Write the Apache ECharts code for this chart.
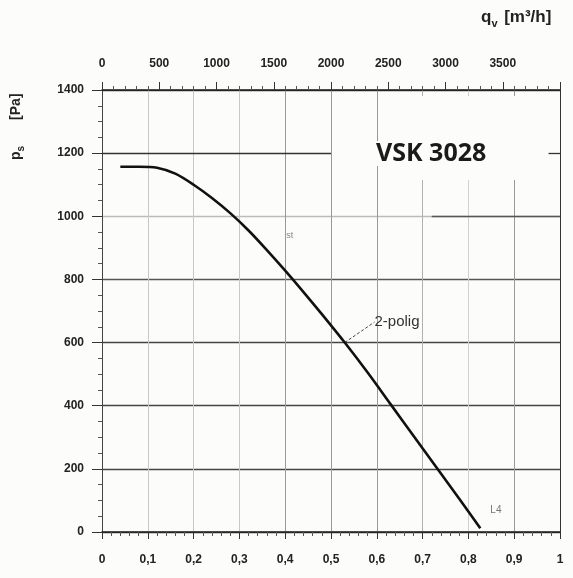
<!DOCTYPE html>
<html><head><meta charset="utf-8">
<script src="https://cdn.jsdelivr.net/npm/echarts@6/dist/echarts.min.js"></script>
<style>html,body{margin:0;padding:0;background:#fcfcfa}#c{width:573px;height:578px}</style>
</head><body><div id="c"></div>
<script>
// Flow rate (m³/s) and static pressure (Pa)
const flowM3s = [0.04, 0.08, 0.12, 0.16, 0.20, 0.24, 0.28, 0.32, 0.36, 0.40, 0.44, 0.48, 0.53, 0.58, 0.63, 0.68, 0.73, 0.78, 0.826];
const pressurePa = [1157, 1157, 1154, 1135, 1100, 1058, 1010, 955, 893, 828, 760, 690, 600, 505, 405, 305, 205, 105, 12];
const curveName = '2-polig';
const title = 'VSK 3028';
const leaderFrom = [0.53, 600];
const leaderTo = [0.595, 665];

const chart = echarts.init(document.getElementById('c'));
const font = 'Liberation Sans';
const xSplitColors = ['#888','#c8c8c8','#c8c8c8','#c8c8c8','#999','#999','#999','#b0b0b0','#d0d0d0','#999','#333'];
const ySplitColors = ['#333','#444','#444','#444','#555','#bbb','rgba(0,0,0,0)','#333'];
chart.setOption({
  backgroundColor: '#fcfcfa',
  animation: false,
  grid: {left: 102, right: 13, top: 90, bottom: 46},
  xAxis: [{
    type: 'value', min: 0, max: 1, interval: 0.1, position: 'bottom',
    axisLine: {show: true, lineStyle: {color: '#222', width: 1.5}},
    axisTick: {show: true, length: 7, lineStyle: {color: '#333'}},
    minorTick: {show: true, splitNumber: 5, length: 4, lineStyle: {color: '#555'}},
    splitLine: {show: true, lineStyle: {color: xSplitColors, width: 1}},
    axisLabel: {margin: 22, color: '#222', fontFamily: font, fontWeight: 'bold', fontSize: 12,
      formatter: v => v === 1 ? '1' : (v === 0 ? '0' : v.toFixed(1).replace('.', ','))}
  }, {
    type: 'value', min: 0, max: 4000, interval: 500, position: 'top',
    axisLine: {show: true, lineStyle: {color: '#222', width: 1.5}},
    axisTick: {show: true, length: 8, lineStyle: {color: '#333'}},
    minorTick: {show: true, splitNumber: 5, length: 4, lineStyle: {color: '#555'}},
    splitLine: {show: false},
    axisLabel: {margin: 20, color: '#222', fontFamily: font, fontWeight: 'bold', fontSize: 12,
      formatter: v => v >= 4000 ? '' : String(v)}
  }],
  yAxis: {
    type: 'value', min: 0, max: 1400, interval: 200,
    axisLine: {show: true, lineStyle: {color: '#444', width: 1}},
    axisTick: {show: true, length: 10, lineStyle: {color: '#333'}},
    minorTick: {show: true, splitNumber: 4, length: 4, lineStyle: {color: '#555'}},
    splitLine: {show: true, lineStyle: {color: ySplitColors, width: 1.3}},
    axisLabel: {margin: 18, color: '#222', fontFamily: font, fontWeight: 'bold', fontSize: 12,
      formatter: v => String(v)}
  },
  series: [{
    type: 'line', name: curveName, xAxisIndex: 0,
    data: flowM3s.map((x, i) => [x, pressurePa[i]]),
    smooth: 0.3, showSymbol: false, z: 60,
    lineStyle: {color: '#111', width: 2.6},
    markLine: {
      silent: true, symbol: ['none', 'none'],
      label: {show: false},
      data: [
        [{coord: leaderFrom, lineStyle: {color: '#444', type: [3, 2], width: 1}}, {coord: leaderTo}],
        [{coord: [0, 1200], lineStyle: {color: '#333', type: 'solid', width: 1.3}}, {coord: [0.5, 1200]}],
        [{coord: [0.975, 1200], lineStyle: {color: '#333', type: 'solid', width: 1.3}}, {coord: [1, 1200]}],
        [{coord: [0.72, 1000], lineStyle: {color: '#555', type: 'solid', width: 1.3}}, {coord: [1, 1000]}]
      ]
    },
    markPoint: {
      silent: true, symbol: 'circle', symbolSize: 0,
      data: [
        {coord: leaderTo, label: {show: true, position: 'right', distance: 0, formatter: curveName,
          color: '#333', fontFamily: font, fontSize: 15}},
        {coord: [0.41, 940], label: {show: true, formatter: 'st', color: '#888', fontFamily: font, fontSize: 9}},
        {coord: [0.86, 70], label: {show: true, formatter: 'L4', color: '#777', fontFamily: font, fontSize: 10}}
      ]
    }
  }],
  graphic: [
    {type: 'rect', left: 383, top: 96, z: 50, shape: {width: 165, height: 84}, style: {fill: '#fcfcfa'}},
    {type: 'text', left: 376, top: 141, z: 51, style: {text: title, fill: '#1a1a1a', font: 'bold 25px "Open Sans"',
      backgroundColor: '#fcfcfa'}},
    {type: 'text', left: 481, top: 9, style: {
      text: '{q|q}{s|v}  {q|[m³/h]}',
      rich: {q: {fontFamily: font, fontWeight: 'bold', fontSize: 17, fill: '#222'},
             s: {fontFamily: font, fontWeight: 'bold', fontSize: 11, fill: '#222', padding: [12, 0, 0, 0]}}
    }},
    {type: 'text', x: 6, y: 160, rotation: Math.PI / 2, style: {
      text: '{p|p}{s|s}{g|[Pa]}',
      rich: {p: {fontFamily: font, fontWeight: 'bold', fontSize: 14, fill: '#222'},
             s: {fontFamily: font, fontWeight: 'bold', fontSize: 10, fill: '#222', padding: [10, 0, 0, 0]},
             g: {fontFamily: font, fontWeight: 'bold', fontSize: 14, fill: '#222', padding: [0, 0, 0, 26]}}
    }}
  ]
});
</script></body></html>
